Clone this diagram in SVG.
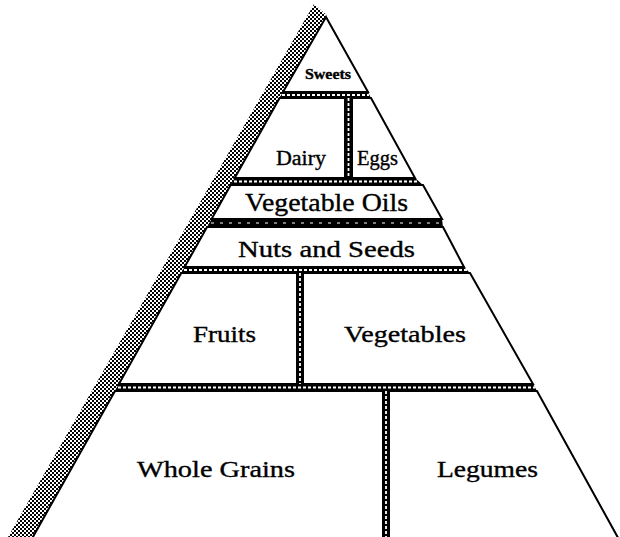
<svg xmlns="http://www.w3.org/2000/svg" width="620" height="537" viewBox="0 0 620 537">
<defs>
<pattern id="hatch" width="4" height="4" patternUnits="userSpaceOnUse">
<rect width="4" height="4" fill="#fff"/>
<rect x="0" y="0" width="2" height="2" fill="#000"/>
<rect x="2" y="2" width="2" height="2" fill="#000"/>
</pattern>
</defs>
<style>
.cell{fill:#fff;stroke:#000;stroke-width:2;stroke-linejoin:miter}
.dots{stroke:#fff;stroke-width:1.8;stroke-dasharray:3 2;fill:none}
.dark{stroke:#fff;stroke-width:1.2;stroke-dasharray:3 6;fill:none}
text{font-family:"Liberation Serif","Times New Roman",serif;fill:#000;stroke:#000;stroke-width:0.35}
.lbl{font-size:23px}
</style>
<rect width="620" height="537" fill="#fff"/>
<g id="shadow">
<polygon points="314,4 326.5,15 33,537 8,537" fill="url(#hatch)"/>
</g>
<g id="connectors">
<polygon points="283,92 368,92 371,98 415,178 423,185 442,219 443,227 464,267 470,273 533,384 537,391 620,540 31,540" fill="#000"/>
<line class="dots" x1="282" y1="95" x2="369" y2="95"/>
<line class="dots" x1="234" y1="181.5" x2="419" y2="181.5"/>
<line class="dark" x1="211" y1="223" x2="442" y2="223"/>
<line class="dots" x1="184" y1="270" x2="467" y2="270"/>
<line class="dots" x1="118" y1="387.5" x2="535" y2="387.5"/>
<line class="dots" x1="348.5" y1="98" x2="348.5" y2="178"/>
<line class="dots" x1="300" y1="273" x2="300" y2="384"/>
<line class="dots" x1="386" y1="391" x2="386" y2="540"/>
</g>
<g id="sweets">
<polygon class="cell" points="326,17 368,92 283,92"/>
<text x="328" y="79" font-size="14" font-weight="bold" text-anchor="middle" textLength="46" lengthAdjust="spacingAndGlyphs">Sweets</text>
</g>
<g id="dairy">
<polygon class="cell" points="279.6,98 345,98 345,178 234.7,178"/>
<text x="276" y="165" font-size="20" textLength="50" lengthAdjust="spacingAndGlyphs">Dairy</text>
</g>
<g id="eggs">
<polygon class="cell" points="352,98 371,98 415,178 352,178"/>
<text x="357" y="165" font-size="20" textLength="41" lengthAdjust="spacingAndGlyphs">Eggs</text>
</g>
<g id="vegetable-oils">
<polygon class="cell" points="230.7,185 423,185 442,219 211.6,219"/>
<text x="245" y="211" font-size="25" textLength="163" lengthAdjust="spacingAndGlyphs">Vegetable Oils</text>
</g>
<g id="nuts-and-seeds">
<polygon class="cell" points="207.1,227 443,227 464,267 184.6,267"/>
<text x="238" y="257" class="lbl" textLength="177" lengthAdjust="spacingAndGlyphs">Nuts and Seeds</text>
</g>
<g id="fruits">
<polygon class="cell" points="181.3,273 297,273 297,384 118.9,384"/>
<text x="193" y="342" class="lbl" textLength="63" lengthAdjust="spacingAndGlyphs">Fruits</text>
</g>
<g id="vegetables">
<polygon class="cell" points="303,273 470,273 533,384 303,384"/>
<text x="344" y="342" class="lbl" textLength="122" lengthAdjust="spacingAndGlyphs">Vegetables</text>
</g>
<g id="whole-grains">
<polygon class="cell" points="115,391 383,391 383,545 28.4,545"/>
<text x="137" y="477" class="lbl" textLength="158" lengthAdjust="spacingAndGlyphs">Whole Grains</text>
</g>
<g id="legumes">
<polygon class="cell" points="389,391 537,391 622,545 389,545"/>
<text x="437" y="477" class="lbl" textLength="101" lengthAdjust="spacingAndGlyphs">Legumes</text>
</g>
</svg>
